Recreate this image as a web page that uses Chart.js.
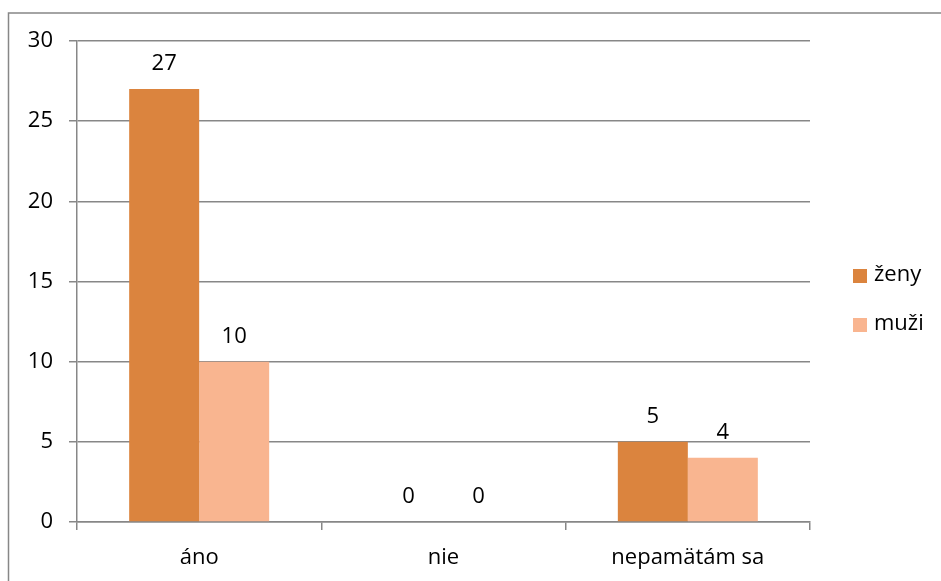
<!DOCTYPE html>
<html>
<head>
<meta charset="utf-8">
<script src="https://cdn.jsdelivr.net/npm/chart.js@4"></script>
<style>
  html, body { margin: 0; padding: 0; background: #fff; }
  #wrap { width: 941px; height: 581px; position: relative; }
</style>
</head>
<body>
<div id="wrap"><canvas id="c" width="941" height="581"></canvas></div>
<script>
const categories = ['áno', 'nie', 'nepamätám sa'];
const zeny = [27, 0, 5];
const muzi = [10, 0, 4];
const seriesNames = ['ženy', 'muži'];
const yTicks = [0, 5, 10, 15, 20, 25, 30];

const FONT = "'Open Sans', 'DejaVu Sans', sans-serif";
const FONT_SIZE = 22;
const GRID = '#878787';

// Outer frame of the chart object (left and top edges)
const framePlugin = {
  id: 'frame',
  beforeDraw(chart) {
    const ctx = chart.ctx;
    ctx.save();
    ctx.strokeStyle = GRID;
    ctx.lineWidth = 1.5;
    ctx.beginPath();
    ctx.moveTo(8.5, chart.height + 2);
    ctx.lineTo(8.5, 13);
    ctx.lineTo(chart.width + 2, 13);
    ctx.stroke();
    ctx.restore();
  }
};

// Value labels above every bar
const valueLabels = {
  id: 'valueLabels',
  afterDatasetsDraw(chart) {
    const ctx = chart.ctx;
    ctx.save();
    ctx.font = FONT_SIZE + 'px ' + FONT;
    ctx.fillStyle = '#000';
    ctx.textAlign = 'center';
    ctx.textBaseline = 'alphabetic';
    chart.data.datasets.forEach((ds, i) => {
      chart.getDatasetMeta(i).data.forEach((bar, j) => {
        ctx.fillText(String(ds.data[j]), bar.x, bar.y - 19);
      });
    });
    ctx.restore();
  }
};

// Legend at the right with square swatches
const sideLegend = {
  id: 'sideLegend',
  afterDraw(chart) {
    const ctx = chart.ctx;
    ctx.save();
    ctx.font = FONT_SIZE + 'px ' + FONT;
    ctx.textBaseline = 'middle';
    ctx.textAlign = 'left';
    chart.data.datasets.forEach((ds, i) => {
      const y = 276 + i * 49;
      ctx.fillStyle = ds.backgroundColor;
      ctx.fillRect(853, y - 7, 14, 14);
      ctx.fillStyle = '#000';
      ctx.fillText(ds.label, 874, y - 1);
    });
    ctx.restore();
  }
};

new Chart(document.getElementById('c'), {
  type: 'bar',
  data: {
    labels: categories,
    datasets: [
      { label: seriesNames[0], data: zeny, backgroundColor: '#DB843E' },
      { label: seriesNames[1], data: muzi, backgroundColor: '#F9B590' }
    ]
  },
  options: {
    responsive: false,
    animation: false,
    events: [],
    layout: { padding: { top: 41, right: 131, left: 0, bottom: 0 } },
    plugins: { legend: { display: false }, tooltip: { enabled: false } },
    datasets: { bar: { categoryPercentage: 0.573, barPercentage: 1.0 } },
    scales: {
      x: {
        offset: true,
        grid: { display: true, drawOnChartArea: false, color: GRID, lineWidth: 1.5, tickLength: 8, offset: true },
        border: { color: GRID, width: 1.5 },
        ticks: { color: '#000', font: { family: FONT, size: FONT_SIZE }, padding: 15, maxRotation: 0 },
        afterFit(s) { s.height = 59; }
      },
      y: {
        min: 0, max: 30,
        afterBuildTicks(s) { s.ticks = yTicks.map(v => ({ value: v })); },
        grid: { color: GRID, lineWidth: 1.5, tickLength: 8 },
        border: { color: GRID, width: 1.5 },
        ticks: { color: '#000', font: { family: FONT, size: FONT_SIZE }, padding: 16 },
        afterFit(s) { s.width = 77; }
      }
    }
  },
  plugins: [framePlugin, valueLabels, sideLegend]
});
</script>
</body>
</html>
